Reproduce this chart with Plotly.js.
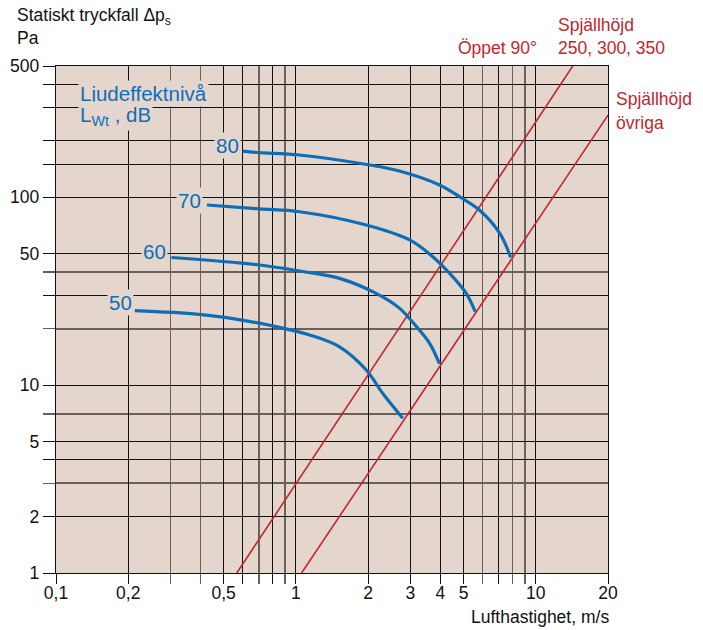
<!DOCTYPE html>
<html><head><meta charset="utf-8">
<script src="https://cdn.plot.ly/plotly-3.0.1.min.js"></script>
<style>body{margin:0;background:#fff}#chart{width:703px;height:630px}</style>
</head><body><div id="chart"></div>
<script>
// ---- axis ticks / grid ----
const xLabelVals = [0.1, 0.2, 0.5, 1, 2, 3, 4, 5, 10, 20];
const xLabelText = ['0,1', '0,2', '0,5', '1', '2', '3', '4', '5', '10', '20'];
const xBlackGrid = [0.6, 0.8, 7];
const xGreyGrid = [0.3, 0.4, 0.7, 0.9, 6, 8, 9];
const yLabelVals = [1, 2, 5, 10, 50, 100, 500];
const yLabelText = ['1', '2', '5', '10', '50', '100', '500'];
const yBlackGrid = [4, 30, 150, 200, 300, 400];
const yGreyGrid = [3, 7, 20, 40];
const yShortTicks = [1.5, 2.5, 3.5, 4.5, 6, 8, 9, 15, 25, 35, 45, 60, 80, 90, 250, 350, 450];

// ---- sound power level curves (velocity m/s, pressure Pa) ----
const curveLabels = ['80', '70', '60', '50'];
const v80 = [0.600, 0.706, 1.036, 2.03, 2.70, 3.97, 4.81, 5.82, 7.06, 7.86];
const p80 = [176, 172.8, 168, 148.6, 138, 116.3, 100.7, 85.6, 64.6, 47.9];
const v70 = [0.426, 0.706, 1.036, 1.965, 2.98, 3.72, 4.37, 5.13, 5.59];
const p70 = [91.0, 86.7, 83.8, 71.2, 59.3, 48.3, 39.4, 30.8, 24.6];
const v60 = [0.303, 0.706, 1.036, 1.52, 2.16, 2.70, 3.18, 3.61, 3.97];
const p60 = [47.8, 43.6, 40.5, 37.0, 30.8, 25.7, 20.5, 16.7, 12.97];
const v50 = [0.213, 0.394, 0.595, 0.797, 1.14, 1.52, 1.965, 2.30, 2.79];
const p50 = [24.9, 23.8, 22.2, 20.7, 18.5, 16.0, 12.04, 9.05, 6.66];

// ---- damper lines ----
const openX = [0.567, 14.26];
const openY = [1, 500];
const otherX = [1.056, 20];
const otherY = [1, 274];

const BLUE = '#0f6db5';
const RED = '#c1272d';
const BG = '#e5d6cd';
const SANS = '"Liberation Sans", Arial, sans-serif';

const W = 703, H = 630, ML = 56, MR = 95, MT = 66, MB = 57;
const pxX = p => (p - ML) / (W - ML - MR);
const pxY = p => (H - MB - p) / (H - MT - MB);

const curves = [[v80, p80], [v70, p70], [v60, p60], [v50, p50]];
const traces = curves.map((c, i) => ({
  x: c[0], y: c[1], type: 'scatter', mode: 'lines', name: curveLabels[i],
  line: {color: BLUE, width: 3.2, shape: 'spline', smoothing: 1},
  hoverinfo: 'skip'
}));
traces.unshift(
  {x: openX, y: openY, type: 'scatter', mode: 'lines', line: {color: RED, width: 1.6}, hoverinfo: 'skip'},
  {x: otherX, y: otherY, type: 'scatter', mode: 'lines', line: {color: RED, width: 1.6}, hoverinfo: 'skip'}
);

const xTickVals = xLabelVals.concat(xBlackGrid);
const xTickText = xLabelText.concat(xBlackGrid.map(() => ' '));
const yTickVals = yLabelVals.concat(yBlackGrid);
const yTickText = yLabelText.concat(yBlackGrid.map(() => ' '));

const labelPos = [[227, 145], [189, 200], [154, 251.5], [120, 302.5]];

const annotations = [
  {text: 'Statiskt tryckfall Δp<sub>s</sub>', x: pxX(15), y: pxY(17), xanchor: 'left', yanchor: 'middle'},
  {text: 'Pa', x: pxX(15), y: pxY(38), xanchor: 'left', yanchor: 'middle'},
  {text: 'Lufthastighet, m/s', x: pxX(611), y: pxY(617), xanchor: 'right', yanchor: 'middle'}
].map(a => Object.assign(a, {xref: 'paper', yref: 'paper', showarrow: false,
  font: {family: SANS, size: 17.5, color: '#111'}}));

[['Öppet 90°', 456, 48.2], ['Spjällhöjd', 556, 25.3], ['250, 300, 350', 556, 48.2],
 ['Spjällhöjd', 614, 98.8], ['övriga', 614, 122.5]].forEach(t => annotations.push({
  text: t[0], x: pxX(t[1]), y: pxY(t[2]), xref: 'paper', yref: 'paper', xanchor: 'left',
  yanchor: 'middle', showarrow: false, font: {family: SANS, size: 17.5, color: RED}
}));

annotations.push(
  {text: 'Ljudeffektnivå', x: pxX(78), y: pxY(94), xanchor: 'left', yanchor: 'middle'},
  {text: 'L<sub>Wt</sub> , dB', x: pxX(78), y: pxY(116), xanchor: 'left', yanchor: 'middle'}
);
curveLabels.forEach((l, i) => annotations.push({
  text: l, x: pxX(labelPos[i][0]), y: pxY(labelPos[i][1]), xanchor: 'center', yanchor: 'middle'
}));
annotations.forEach(a => {
  if (!a.xref) {
    Object.assign(a, {xref: 'paper', yref: 'paper', showarrow: false, bgcolor: BG, borderpad: 1,
      font: {family: SANS, size: 20.5, color: BLUE}});
  }
});

const layout = {
  width: W, height: H,
  margin: {l: ML, r: MR, t: MT, b: MB},
  paper_bgcolor: '#ffffff', plot_bgcolor: BG,
  showlegend: false,
  xaxis: {
    type: 'log', range: [Math.log10(0.1), Math.log10(20)],
    tickmode: 'array', tickvals: xTickVals, ticktext: xTickText,
    ticks: 'outside', ticklen: 10, tickwidth: 1, tickcolor: '#111',
    ticklabelstandoff: -6,
    showgrid: true, gridcolor: '#111', gridwidth: 1,
    showline: true, linecolor: '#111', linewidth: 1.2, mirror: true,
    zeroline: false,
    tickfont: {family: SANS, size: 17.5, color: '#111'},
    minor: {tickmode: 'array', tickvals: xGreyGrid, ticks: 'outside', ticklen: 10,
      tickcolor: '#6a605b', tickwidth: 1.6, showgrid: true, gridcolor: '#6a605b', gridwidth: 1.8}
  },
  yaxis: {
    type: 'log', range: [0, Math.log10(500)],
    tickmode: 'array', tickvals: yTickVals, ticktext: yTickText,
    ticks: 'outside', ticklen: 12, tickwidth: 1, tickcolor: '#111',
    showgrid: true, gridcolor: '#111', gridwidth: 1,
    showline: true, linecolor: '#111', linewidth: 1.2, mirror: true,
    zeroline: false,
    tickfont: {family: SANS, size: 17.5, color: '#111'},
    minor: {tickmode: 'array', tickvals: yGreyGrid, ticks: 'outside', ticklen: 12,
      tickcolor: '#6a605b', tickwidth: 1.6, showgrid: true, gridcolor: '#6a605b', gridwidth: 1.8}
  },
  yaxis2: {
    type: 'log', range: [0, Math.log10(500)], overlaying: 'y', anchor: 'x', side: 'left',
    tickmode: 'array', tickvals: yShortTicks, ticks: 'outside', ticklen: 6, tickwidth: 1,
    tickcolor: '#111', showticklabels: false, showgrid: false, showline: false, zeroline: false
  },
  annotations: annotations
};

Plotly.newPlot('chart', traces, layout, {staticPlot: true});
</script>
</body></html>
